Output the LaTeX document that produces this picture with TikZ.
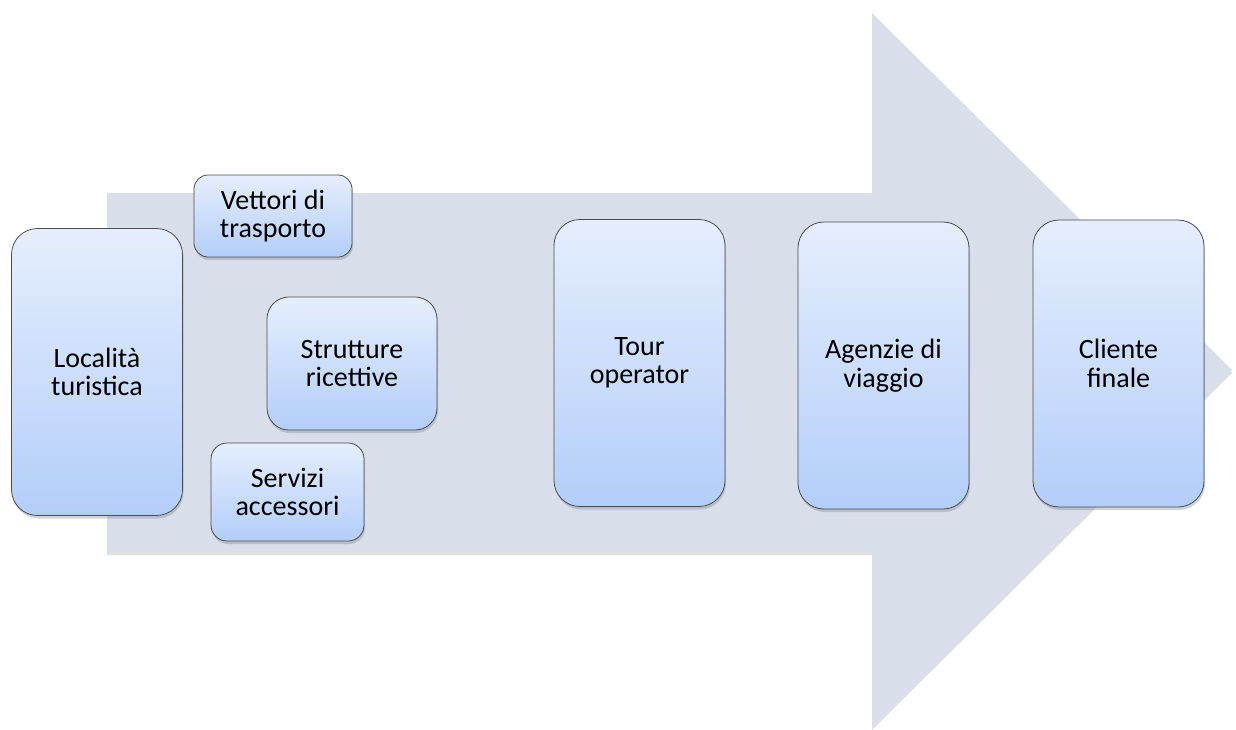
\documentclass[tikz,border=0pt]{standalone}
\usepackage{fontspec}
\setmainfont{Carlito}
\usetikzlibrary{shadows}
\usetikzlibrary{calc}

\definecolor{frecciagrigia}{HTML}{D8DEEA}
\definecolor{bloccoalto}{HTML}{E5EEFD}
\definecolor{bloccobasso}{HTML}{B3CEFA}

\tikzstyle{blocco}=[rectangle, draw=black!70, line width=0.8pt, top color=bloccoalto, bottom color=bloccobasso, align=center, inner sep=0pt, font=\fontsize{28}{28.5}\selectfont, drop shadow={shadow xshift=1pt, shadow yshift=-3pt, opacity=0.35}]

\begin{document}
\begin{tikzpicture}[x=1pt, y=-1pt]

    \useasboundingbox (0,0) rectangle (1236,729);

    % freccia di sfondo
    \fill[frecciagrigia, drop shadow={shadow xshift=0pt, shadow yshift=-3pt, opacity=0.25}]
        (107,193) -- (872,193) -- (872,13) -- (1232,370) -- (872,727) -- (872,552) -- (107,552) -- cycle;

    % blocchi alti
    \foreach \pos/\name/\testo in {{(97,372)/loc/{Località\\turistica}}, {(639.5,363)/tour/{Tour\\operator}},
                                  {(883.5,365.5)/age/{Agenzie di\\viaggio}}, {(1118.5,363.5)/cli/{Cliente\\finale}}}
        \node[blocco, rounded corners=26pt, minimum width=171pt, minimum height=287pt] (\name) at \pos {\testo};

    % fornitori
    \node[blocco, rounded corners=14pt, minimum width=158pt, minimum height=82pt] (vet) at (273,216) {Vettori di\\trasporto};
    \node[blocco, rounded corners=22pt, minimum width=170pt, minimum height=133pt] (str) at (352,363.5) {Strutture\\ricettive};
    \node[blocco, rounded corners=16pt, minimum width=153pt, minimum height=98pt] (ser) at (287.5,492) {Servizi\\accessori};

\end{tikzpicture}
\end{document}
